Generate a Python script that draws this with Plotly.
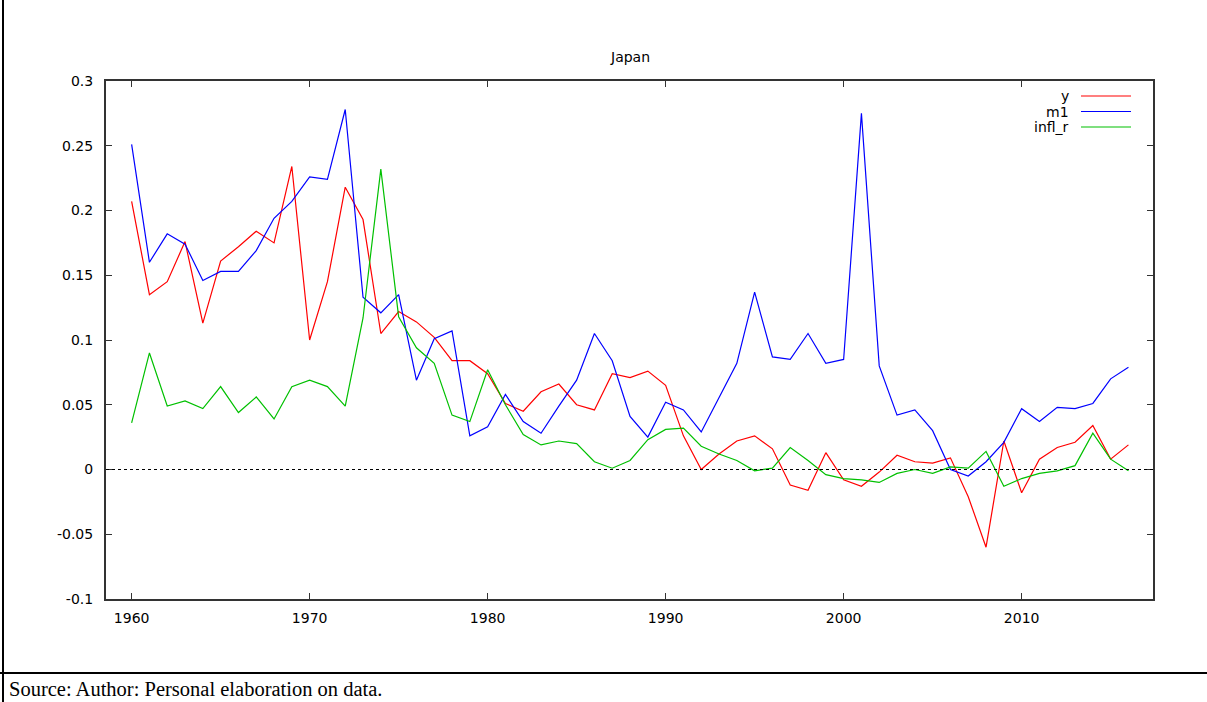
import plotly.graph_objects as go

# Annual growth rates, Japan 1960-2016
years = list(range(1960, 2017))

y = [0.207, 0.135, 0.145, 0.176, 0.113, 0.161, 0.172, 0.184, 0.175, 0.234,
     0.100, 0.145, 0.218, 0.193, 0.105, 0.122, 0.114, 0.102, 0.084, 0.084,
     0.074, 0.051, 0.045, 0.060, 0.066, 0.050, 0.046, 0.074, 0.071, 0.076,
     0.065, 0.026, 0.000, 0.012, 0.022, 0.026, 0.016, -0.012, -0.016, 0.013,
     -0.008, -0.013, -0.002, 0.011, 0.006, 0.005, 0.009, -0.021, -0.060, 0.022,
     -0.018, 0.008, 0.017, 0.021, 0.034, 0.008, 0.019]

m1 = [0.251, 0.160, 0.182, 0.174, 0.146, 0.153, 0.153, 0.169, 0.194, 0.207,
      0.226, 0.224, 0.278, 0.133, 0.121, 0.135, 0.069, 0.101, 0.107, 0.026,
      0.033, 0.058, 0.037, 0.028, 0.049, 0.069, 0.105, 0.084, 0.041, 0.025,
      0.052, 0.046, 0.029, 0.055, 0.082, 0.137, 0.087, 0.085, 0.105, 0.082,
      0.085, 0.275, 0.080, 0.042, 0.046, 0.030, 0.000, -0.005, 0.006, 0.021,
      0.047, 0.037, 0.048, 0.047, 0.051, 0.070, 0.079]

infl_r = [0.036, 0.090, 0.049, 0.053, 0.047, 0.064, 0.044, 0.056, 0.039, 0.064,
          0.069, 0.064, 0.049, 0.117, 0.232, 0.118, 0.094, 0.082, 0.042, 0.037,
          0.077, 0.050, 0.027, 0.019, 0.022, 0.020, 0.006, 0.001, 0.007, 0.023,
          0.031, 0.032, 0.018, 0.012, 0.007, -0.001, 0.001, 0.017, 0.007, -0.004,
          -0.007, -0.008, -0.010, -0.003, 0.000, -0.003, 0.002, 0.001, 0.014, -0.013,
          -0.007, -0.003, -0.001, 0.003, 0.028, 0.008, -0.001]

series = [("y", y, "#ff0000"), ("m1", m1, "#0000ff"), ("infl_r", infl_r, "#00c000")]

x_ticks = [1960, 1970, 1980, 1990, 2000, 2010]
y_ticks = [-0.1, -0.05, 0, 0.05, 0.1, 0.15, 0.2, 0.25, 0.3]
y_tick_text = ["-0.1", "-0.05", "0", "0.05", "0.1", "0.15", "0.2", "0.25", "0.3"]

W, H = 1207, 702
L, R, T, B = 106, 54, 81, 103
PW, PH = W - L - R, H - T - B


def px(x):
    return (x - L) / PW


def py(yv):
    return (H - B - yv) / PH


fig = go.Figure()
for name, vals, color in series:
    fig.add_trace(go.Scatter(x=years, y=vals, mode="lines", name=name,
                             line=dict(color=color, width=1.2), showlegend=False))

font = dict(family="DejaVu Sans", size=14, color="#000")

# Legend: right-aligned labels followed by a line sample
for i, (name, vals, color) in enumerate(series):
    yy = py(96 + i * 15.5)
    fig.add_annotation(x=px(1071), y=yy, xref="paper", yref="paper", text=name,
                       showarrow=False, xanchor="right", yanchor="middle", font=font)
    fig.add_shape(type="line", xref="paper", yref="paper",
                  x0=px(1081), x1=px(1131), y0=yy, y1=yy,
                  line=dict(color=color, width=1.2))

# Dotted zero line
fig.add_shape(type="line", xref="paper", yref="y", x0=0, x1=1, y0=0, y1=0,
              line=dict(color="#000", width=1, dash="dot"))

# Page frame and caption
fig.add_shape(type="line", xref="paper", yref="paper", x0=px(0), x1=px(W),
              y0=py(673), y1=py(673), line=dict(color="#000", width=2))
fig.add_shape(type="line", xref="paper", yref="paper", x0=px(3), x1=px(3),
              y0=py(0), y1=py(H), line=dict(color="#000", width=2))
fig.add_annotation(x=px(7), y=py(689), xref="paper", yref="paper",
                   text="Source: Author: Personal elaboration on data.",
                   showarrow=False, xanchor="left", yanchor="middle",
                   font=dict(family="Liberation Serif", size=20.5, color="#000"))

fig.add_annotation(x=px(630), y=py(57), xref="paper", yref="paper", text="Japan",
                   showarrow=False, xanchor="center", yanchor="middle", font=font)

axis_common = dict(showgrid=False, zeroline=False, showline=True, mirror="ticks",
                   linecolor="#333", linewidth=2, ticks="inside", ticklen=6,
                   tickcolor="#333", tickwidth=1,
                   tickfont=dict(family="DejaVu Sans", size=14, color="#000"))

fig.update_xaxes(range=[1958.56, 2017.38], tickvals=x_ticks, ticklabelstandoff=5, **axis_common)
fig.update_yaxes(range=[-0.1, 0.3], tickvals=y_ticks, ticktext=y_tick_text,
                 ticklabelstandoff=8, **axis_common)

fig.update_layout(width=W, height=H, margin=dict(l=L, r=R, t=T, b=B),
                  paper_bgcolor="white", plot_bgcolor="white")

fig.write_html("out.html")
